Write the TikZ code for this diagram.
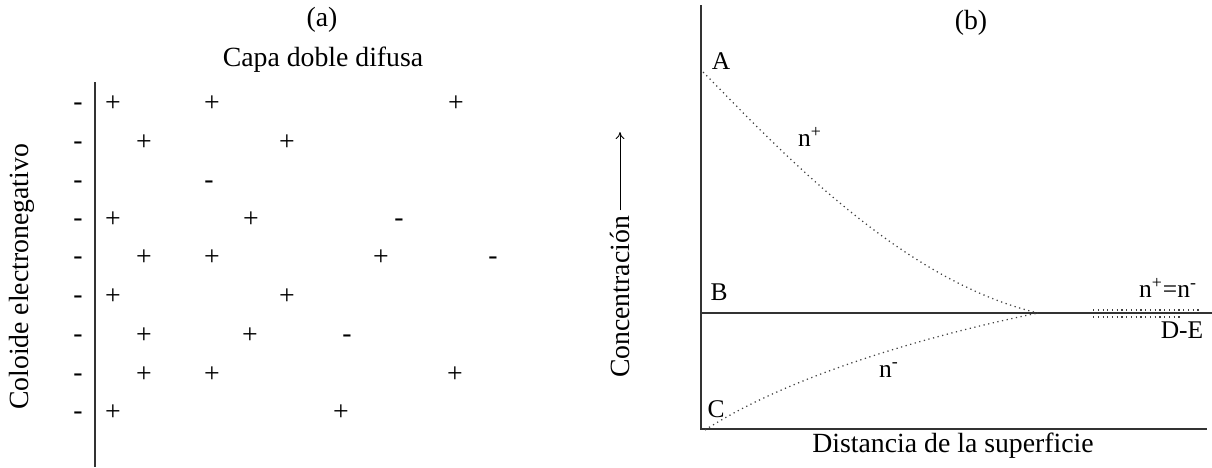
\documentclass[tikz,border=0pt]{standalone}
\usepackage{fontspec}
\setmainfont{Liberation Serif}
\usetikzlibrary{arrows.meta,positioning}
\tikzset{
  lbl/.style={inner sep=0pt, font=\fontsize{15.8}{18}\selectfont},
  tag/.style={inner sep=0pt, font=\fontsize{14.5}{17}\selectfont},
  ion/.style={inner sep=0pt, font=\fontsize{15.8}{18}\selectfont},
  neg/.style={ion, yshift=-1.6pt},
  axis/.style={draw=black!80, line width=0.6pt},
  curve/.style={draw=black!75, line width=0.7pt, dotted},
  arrow/.style={-{To[length=4pt,width=5pt]}, line width=0.5pt}
}
\begin{document}
\begin{tikzpicture}[x=0.02cm, y=-0.02cm]
  \useasboundingbox (0,0) rectangle (1212,467);

  % panel (a)
  \node[lbl] (tita) at (322,20) {(a)};
  \node[lbl] (capa) at (323,60) {Capa doble difusa};
  \node[lbl, rotate=90] (coloide) at (22,277) {Coloide electronegativo};
  \coordinate (sup) at (95,82);
  \coordinate (inf) at (95,467);
  \draw[axis] (sup) -- (inf);
  \foreach \y [count=\i] in {104,143,182,220,258,297,336,375,413}
    \node[neg] (neg\i) at (78,\y) {-};
  \foreach \x/\y [count=\i] in {113/104, 212/104, 456/104, 144/143, 287/143,
      113/220, 251/220, 144/258, 212/258, 381/258, 113/297, 287/297,
      144/336, 250/336, 144/375, 212/375, 455/375, 113/413, 341/413}
    \node[ion] (pos\i) at (\x,\y) {+};
  \foreach \x/\y [count=\i] in {209/182, 399/220, 493/258, 347/336}
    \node[neg] (ani\i) at (\x,\y) {-};

  % panel (b)
  \node[lbl] (titb) at (971,23) {(b)};
  \node[lbl, rotate=90] (conc) at (620,297) {Concentración};
  \coordinate (tip) at (620,132);
  \draw[arrow] ([yshift=3pt]conc.east) -- (tip);
  \coordinate (top) at (701,5);
  \coordinate (O) at (701,429);
  \coordinate (xend) at (1207,429);
  \coordinate (Bl) at (701,313);
  \coordinate (Br) at (1212,313);
  \draw[axis] (top) -- (O) -- (xend);
  \draw[axis] (Bl) -- (Br);
  \coordinate (a0) at (703,72);
  \coordinate (c0) at (705,430);
  \coordinate (de) at (1038,313);
  \draw[curve] (a0) .. controls (780,150) and (900,280) .. (de);
  \draw[curve] (c0) .. controls (790,375) and (930,335) .. (de);
  \coordinate (p1) at (1093,310);
  \coordinate (p2) at (1200,310);
  \coordinate (q1) at (1093,317);
  \coordinate (q2) at (1183,317);
  \draw[curve] (p1) -- (p2);
  \draw[curve] (q1) -- (q2);

  \node[tag] (A) at (721,61) {A};
  \node[tag] (B) at (719,292) {B};
  \node[tag] (C) at (716,409) {C};
  \node[tag] (npos) at (810,137) {n\textsuperscript{+}};
  \node[tag] (nneg) at (889,370) {n\textsuperscript{-}};
  \node[tag] (igual) at (1168,288) {n\textsuperscript{+}=n\textsuperscript{-}};
  \node[tag] (DE) at (1182,330) {D-E};
  \node[lbl] (dist) at (953,446) {Distancia de la superficie};
\end{tikzpicture}
\end{document}
